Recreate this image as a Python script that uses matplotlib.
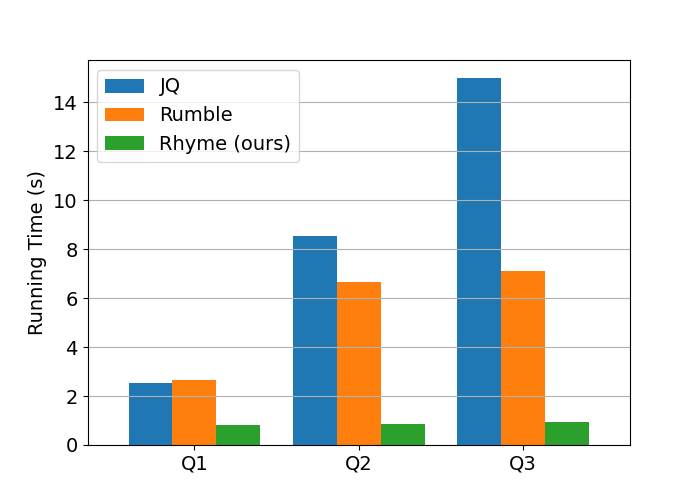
import numpy as np
import matplotlib.pyplot as plt

queries = ["Q1", "Q2", "Q3"]
jq_times = [2.53, 8.53, 14.97]
rumble_times = [2.65, 6.65, 7.10]
rhyme_times = [0.82, 0.86, 0.94]

plt.rcParams["font.size"] = 14

x = np.arange(len(queries))
width = 0.8 / 3

fig, ax = plt.subplots(figsize=(7, 5), dpi=100)
ax.bar(x - width, jq_times, width, label="JQ")
ax.bar(x, rumble_times, width, label="Rumble")
ax.bar(x + width, rhyme_times, width, label="Rhyme (ours)")
ax.set_xticks(x)
ax.set_xticklabels(queries)
ax.set_xlim(-0.65, 2.65)
ax.set_ylabel("Running Time (s)")
ax.grid(True, axis="y")
ax.legend(loc="upper left")

fig.savefig("out.png")
